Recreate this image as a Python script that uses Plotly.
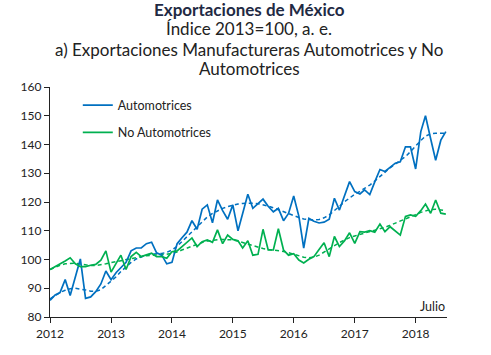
import pandas as pd
import plotly.graph_objects as go

months = pd.date_range("2012-01-01", "2018-07-01", freq="MS")

automotrices = [
    85.8, 87.7, 88.5, 93.0, 87.5, 94.0, 100.2, 86.5, 87.0, 88.8, 91.5, 96.0,
    93.0, 95.5, 97.0, 99.0, 103.0, 104.0, 104.0, 105.5, 106.0, 102.3, 101.5, 98.5,
    99.0, 105.5, 107.5, 109.5, 113.5, 110.5, 117.5, 119.0, 112.8, 120.7, 117.0, 114.0,
    119.0, 110.0, 116.0, 122.7, 117.8, 119.3, 121.0, 118.5, 116.6, 117.8, 113.5, 116.0,
    122.1, 115.0, 104.0, 114.3, 113.3, 112.7, 113.0, 114.0, 121.3, 117.2, 122.4, 127.1,
    123.6, 122.8, 124.2, 122.6, 127.0, 131.3, 130.6, 132.0, 133.5, 134.0, 139.2, 139.2,
    131.5, 144.5, 150.0, 142.0, 134.5, 141.5, 144.5,
]

no_automotrices = [
    96.5, 97.5, 98.3, 99.5, 100.6, 98.5, 97.5, 97.5, 98.0, 98.3, 99.8, 103.0,
    95.6, 98.5, 101.5, 96.5, 101.0, 102.5, 101.0, 101.6, 102.2, 101.0, 101.0, 100.4,
    102.7, 103.0, 104.5, 106.0, 107.5, 104.5, 106.2, 106.8, 106.0, 110.3, 105.5, 108.5,
    107.0, 106.5, 104.0, 106.5, 101.5, 101.8, 110.5, 103.3, 103.3, 110.7, 103.3, 101.5,
    102.0, 99.8, 98.8, 100.1, 101.0, 103.5, 105.8, 101.0, 108.0, 104.5, 106.5, 109.3,
    105.6, 109.7, 109.5, 110.0, 109.5, 112.3, 109.7, 111.4, 110.0, 108.5, 115.0, 115.5,
    115.0, 117.0, 119.3, 116.1, 120.7, 116.1, 115.8,
]

tendencia_auto = [
    86.3, 87.5, 88.5, 89.3, 89.8, 90.0, 89.8, 89.4, 89.0, 88.9, 89.5, 91.0,
    92.5, 94.0, 95.8, 97.5, 99.0, 100.2, 101.0, 101.6, 101.9, 102.0, 102.1, 102.5,
    103.3, 104.6, 106.2, 108.0, 109.8, 111.6, 113.3, 114.8, 116.0, 117.0, 117.8, 118.4,
    118.9, 119.3, 119.5, 119.6, 119.6, 119.4, 119.1, 118.6, 118.0, 117.3, 116.6, 115.9,
    115.2, 114.6, 114.1, 113.8, 113.7, 113.9, 114.5, 115.5, 116.9, 118.5, 120.1, 121.5,
    122.7, 123.7, 124.7, 125.9, 127.3, 128.9, 130.5, 131.9, 133.2, 134.4, 135.8, 137.5,
    139.5, 141.4, 142.9, 143.7, 143.9, 143.9, 143.9,
]

tendencia_no_auto = [
    96.5, 97.3, 98.0, 98.5, 98.7, 98.7, 98.4, 98.1, 97.9, 97.9, 98.1, 98.5,
    98.9, 99.3, 99.6, 99.9, 100.2, 100.6, 101.0, 101.3, 101.5, 101.6, 101.7, 101.8,
    102.1, 102.6, 103.3, 104.0, 104.7, 105.3, 105.9, 106.4, 106.7, 106.9, 107.0, 107.0,
    106.8, 106.4, 105.9, 105.3, 104.7, 104.2, 103.8, 103.5, 103.3, 103.1, 102.8, 102.4,
    101.9, 101.3, 100.8, 100.6, 100.8, 101.5, 102.5, 103.6, 104.8, 105.9, 106.8, 107.6,
    108.2, 108.7, 109.1, 109.5, 110.0, 110.6, 111.2, 111.9, 112.6, 113.3, 114.0, 114.8,
    115.6, 116.4, 117.0, 117.4, 117.5, 117.3, 117.0,
]

year_ticks = ["2012-01-01", "2013-01-01", "2014-01-01", "2015-01-01",
              "2016-01-01", "2017-01-01", "2018-01-01"]
year_labels = ["2012", "2013", "2014", "2015", "2016", "2017", "2018"]
y_ticks = [80, 90, 100, 110, 120, 130, 140, 150, 160]

BLUE = "#0070C0"
GREEN = "#00B050"
FONT = "Lato"

fig = go.Figure()
fig.add_trace(go.Scatter(x=months, y=tendencia_auto, mode="lines",
                         line=dict(color=BLUE, width=1.5, dash="4px,3px"),
                         showlegend=False, hoverinfo="skip"))
fig.add_trace(go.Scatter(x=months, y=tendencia_no_auto, mode="lines",
                         line=dict(color=GREEN, width=1.5, dash="4px,3px"),
                         showlegend=False, hoverinfo="skip"))
fig.add_trace(go.Scatter(x=months, y=automotrices, mode="lines", name="Automotrices",
                         line=dict(color=BLUE, width=1.7), legendgroup="a"))
fig.add_trace(go.Scatter(x=months, y=no_automotrices, mode="lines", name="No Automotrices",
                         line=dict(color=GREEN, width=1.7), legendgroup="b"))

plot_h = 355 - 87 - 38
def py(pix):
    return (355 - 38 - pix) / plot_h

title_x = (249 - 50) / (491 - 50 - 44)
title_font_main = dict(size=17, color="#222222")

fig.update_layout(
    width=491, height=355,
    margin=dict(l=50, r=44, t=87, b=38),
    paper_bgcolor="white", plot_bgcolor="white",
    font=dict(family=FONT, size=12, color="#222222"),
    showlegend=True,
    legend=dict(x=0.07, y=0.985, xanchor="left", yanchor="top",
                bgcolor="rgba(0,0,0,0)", font=dict(size=12.5, color="#222222"),
                tracegroupgap=8, itemwidth=30),
    xaxis=dict(type="date", range=["2012-01-01", "2018-07-08"],
               tickvals=year_ticks, ticktext=year_labels,
               showline=True, linecolor="#222222", linewidth=1.3,
               ticks="outside", ticklen=5, tickcolor="#222222", tickwidth=1.3,
               showgrid=False, zeroline=False,
               tickfont=dict(size=12, color="#222222")),
    yaxis=dict(range=[80, 160], tickvals=y_ticks,
               showline=True, linecolor="#222222", linewidth=1.3,
               ticks="outside", ticklen=5, tickcolor="#222222", tickwidth=1.3,
               showgrid=False, zeroline=False,
               tickfont=dict(size=12, color="#222222")),
    annotations=[
        dict(text="<b>Exportaciones de México</b>", x=title_x, y=py(10),
             xref="paper", yref="paper", xanchor="center", yanchor="middle",
             showarrow=False, font=dict(size=17, color="#1F2A44")),
        dict(text="Índice 2013=100, a. e.", x=title_x, y=py(29),
             xref="paper", yref="paper", xanchor="center", yanchor="middle",
             showarrow=False, font=title_font_main),
        dict(text="a) Exportaciones Manufactureras Automotrices y No", x=title_x,
             y=py(49), xref="paper", yref="paper", xanchor="center",
             yanchor="middle", showarrow=False, font=title_font_main),
        dict(text="Automotrices", x=title_x, y=py(68), xref="paper", yref="paper",
             xanchor="center", yanchor="middle", showarrow=False,
             font=title_font_main),
        dict(text="Julio", xref="paper", yref="paper", x=1.0, y=0.005,
             xanchor="right", yanchor="bottom", showarrow=False,
             font=dict(size=12.5, color="#222222")),
    ],
)

fig.write_html("out.html", config={"displayModeBar": False},
               post_script="document.body.style.margin='0';")
